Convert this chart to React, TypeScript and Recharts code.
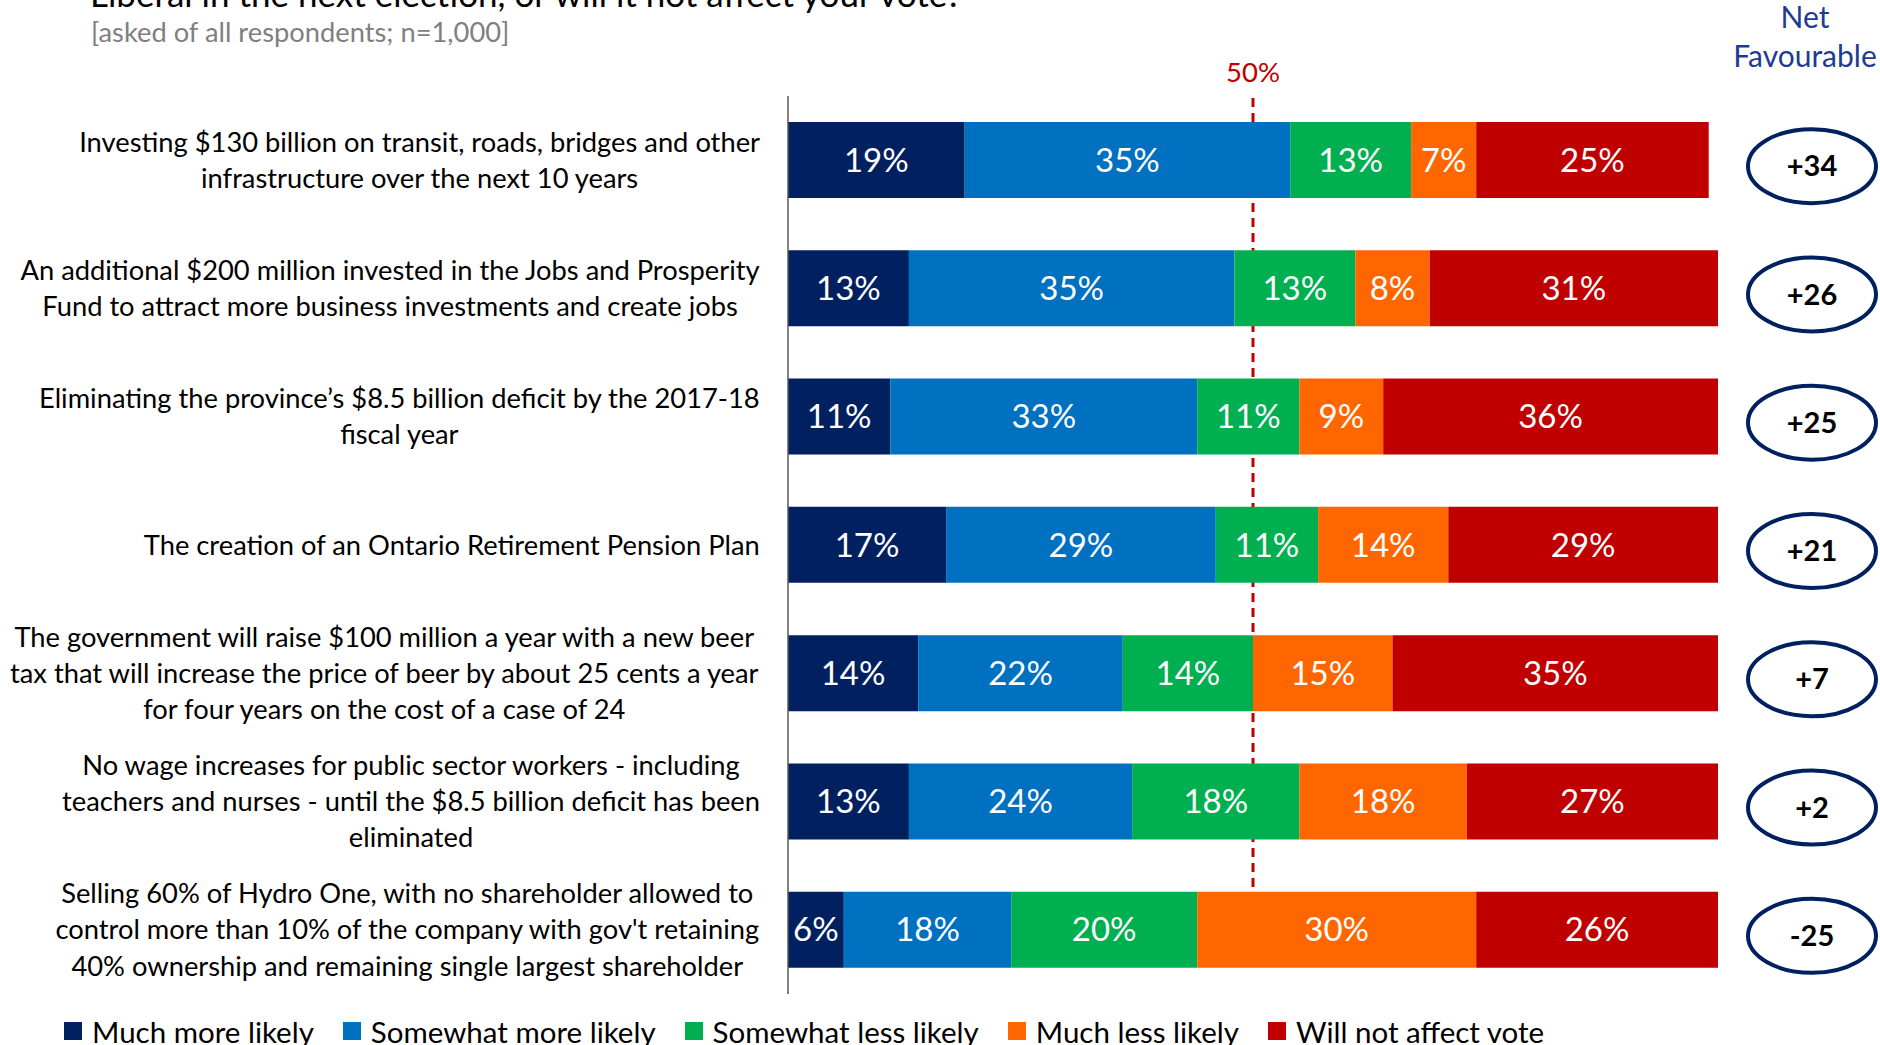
import { BarChart, Bar, XAxis, YAxis, ReferenceLine, LabelList } from 'recharts';

const categories = [
  'Investing $130 billion on transit, roads, bridges and other\ninfrastructure over the next 10 years',
  'An additional $200 million invested in the Jobs and Prosperity\nFund to attract more business investments and create jobs',
  'Eliminating the province\u2019s $8.5 billion deficit by the 2017-18\nfiscal year',
  'The creation of an Ontario Retirement Pension Plan',
  'The government will raise $100 million a year with a new beer\ntax that will increase the price of beer by about 25 cents a year\nfor four years on the cost of a case of 24',
  'No wage increases for public sector workers - including\nteachers and nurses - until the $8.5 billion deficit has been\neliminated',
  "Selling 60% of Hydro One, with no shareholder allowed to\ncontrol more than 10% of the company with gov't retaining\n40% ownership and remaining single largest shareholder",
];

const muchMore = [19, 13, 11, 17, 14, 13, 6];
const somewhatMore = [35, 35, 33, 29, 22, 24, 18];
const somewhatLess = [13, 13, 11, 11, 14, 18, 20];
const muchLess = [7, 8, 9, 14, 15, 18, 30];
const noEffect = [25, 31, 36, 29, 35, 27, 26];
const netFavourable = [34, 26, 25, 21, 7, 2, -25];

const series = [
  { key: 'muchMore', name: 'Much more likely', color: '#002060', values: muchMore },
  { key: 'somewhatMore', name: 'Somewhat more likely', color: '#0070C0', values: somewhatMore },
  { key: 'somewhatLess', name: 'Somewhat less likely', color: '#00B050', values: somewhatLess },
  { key: 'muchLess', name: 'Much less likely', color: '#FF6600', values: muchLess },
  { key: 'noEffect', name: 'Will not affect vote', color: '#C00000', values: noEffect },
];

const WIDTH = 1880;
const HEIGHT = 1045;
const BAR_SIZE = 76;
const FONT = 'Lato, sans-serif';
const LABEL_FONT_SIZE = 27.3;
const LINE_HEIGHT = 36.3;

let canvasCtx: CanvasRenderingContext2D | null = null;
function measure(text: string) {
  if (!canvasCtx) canvasCtx = document.createElement('canvas').getContext('2d');
  if (!canvasCtx) return text.length * LABEL_FONT_SIZE * 0.5;
  canvasCtx.font = `${LABEL_FONT_SIZE}px Lato`;
  return canvasCtx.measureText(text).width;
}

function CategoryTick({ x, y, payload }: any) {
  const lines = String(payload.value).split('\n');
  const widest = Math.max(...lines.map(measure));
  const cx = x - widest / 2;
  const startY = y - ((lines.length - 1) * LINE_HEIGHT) / 2;
  return (
    <text x={cx} textAnchor="middle" fontSize={LABEL_FONT_SIZE} fill="#000" fontFamily={FONT}>
      {lines.map((line, i) => (
        <tspan key={i} x={cx} y={startY + i * LINE_HEIGHT} dy="0.35em">
          {line}
        </tspan>
      ))}
    </text>
  );
}

function NetTick({ x, y, index }: any) {
  const v = netFavourable[index];
  const cy = y + 6;
  return (
    <g>
      <ellipse cx={x + 1} cy={cy} rx={64} ry={37} fill="#fff" stroke="#002060" strokeWidth={4} />
      <text x={x + 1} y={cy} dy="0.35em" textAnchor="middle" fontSize={29} fontWeight={700} fill="#000" fontFamily={FONT}>
        {v > 0 ? `+${v}` : `${v}`}
      </text>
    </g>
  );
}

function HalfLine(props: any) {
  const { x1 } = props;
  const top = Math.min(props.y1, props.y2);
  const bottom = Math.max(props.y1, props.y2);
  const band = (bottom - top) / categories.length;
  const end = bottom - band + (band - BAR_SIZE) / 2;
  return <line x1={x1} x2={x1} y1={top + 2} y2={end} stroke="#C00000" strokeWidth={3} strokeDasharray="9 6" />;
}

export default function App() {
  const data = categories.map((label, i) => {
    const row: Record<string, string | number> = { label };
    series.forEach((s) => {
      row[s.key] = s.values[i];
    });
    return row;
  });

  return (
    <div
      style={{
        position: 'absolute',
        left: 0,
        top: 0,
        width: WIDTH,
        height: HEIGHT,
        overflow: 'hidden',
        background: '#fff',
        fontFamily: FONT,
      }}
    >
      <BarChart
        width={WIDTH}
        height={HEIGHT}
        data={data}
        layout="vertical"
        barSize={BAR_SIZE}
        margin={{ top: 96, right: 0, bottom: 51, left: 0 }}
      >
        <XAxis type="number" domain={[0, 100]} hide />
        <YAxis
          yAxisId="left"
          type="category"
          dataKey="label"
          width={788}
          interval={0}
          axisLine={{ stroke: '#595959', strokeWidth: 1.5 }}
          tickLine={false}
          tickMargin={22}
          tick={<CategoryTick />}
        />
        <YAxis
          yAxisId="right"
          orientation="right"
          type="category"
          dataKey="label"
          width={162}
          interval={0}
          axisLine={false}
          tickLine={false}
          tickMargin={87}
          tick={<NetTick />}
        />
        <ReferenceLine
          yAxisId="left"
          x={50}
          zIndex={50}
          shape={(p: any) => <HalfLine {...p} />}
          label={{ value: '50%', position: 'top', offset: 14, fill: '#C00000', fontSize: 27.5 }}
        />
        {series.map((s) => (
          <Bar key={s.key} yAxisId="left" dataKey={s.key} name={s.name} stackId="a" fill={s.color} isAnimationActive={false}>
            <LabelList
              dataKey={s.key}
              position="center"
              fill="#fff"
              fontSize={33}
              formatter={(v: any) => `${v}%`}
            />
          </Bar>
        ))}
      </BarChart>

      <svg
        width={WIDTH}
        height={HEIGHT}
        style={{ position: 'absolute', left: 0, top: 0, pointerEvents: 'none' }}
        fontFamily={FONT}
      >
        <text x={90} y={7} fontSize={35} fill="#000">
          Liberal in the next election, or will it not affect your vote?
        </text>
        <text x={91} y={42} fontSize={27.3} fill="#7F7F7F">
          [asked of all respondents; n=1,000]
        </text>
        <text x={1805} y={28} textAnchor="middle" fontSize={30} fill="#1F3A93">
          Net
        </text>
        <text x={1805} y={67} textAnchor="middle" fontSize={30} fill="#1F3A93">
          Favourable
        </text>
      </svg>

      <div
        style={{
          position: 'absolute',
          left: 64,
          top: 1013,
          display: 'flex',
          alignItems: 'center',
          height: 36,
          fontSize: 29.5,
          color: '#000',
          whiteSpace: 'nowrap',
        }}
      >
        {series.map((s) => (
          <div key={s.key} style={{ display: 'flex', alignItems: 'center', marginRight: 29 }}>
            <span style={{ display: 'inline-block', width: 18, height: 18, background: s.color, marginRight: 10 }} />
            <span>{s.name}</span>
          </div>
        ))}
      </div>
    </div>
  );
}
